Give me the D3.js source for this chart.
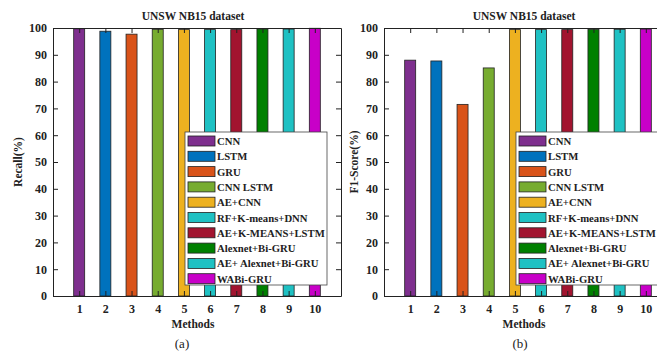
<!DOCTYPE html>
<html>
<head>
<meta charset="utf-8">
<script src="https://cdn.jsdelivr.net/npm/d3@7"></script>
<style>
  html, body { margin: 0; padding: 0; background: #fff; }
  svg, svg text { font-family: "Liberation Serif", "Times New Roman", Times, serif; font-weight: bold; fill: #222; }
</style>
</head>
<body>
<div id="chart"></div>
<script>
// data
const methods = [1, 2, 3, 4, 5, 6, 7, 8, 9, 10];
const names = ["CNN", "LSTM", "GRU", "CNN LSTM", "AE+CNN", "RF+K-means+DNN",
               "AE+K-MEANS+LSTM", "Alexnet+Bi-GRU", "AE+ Alexnet+Bi-GRU", "WABi-GRU"];
const recall = [99.7, 98.8, 97.7, 99.5, 99.4, 99.4, 99.4, 99.6, 99.6, 99.9];
const f1score = [88.0, 87.7, 71.5, 85.1, 99.4, 99.4, 99.4, 99.5, 99.5, 99.6];
const yTicks = [0, 10, 20, 30, 40, 50, 60, 70, 80, 90, 100];
const colors = ["#7E2F8E", "#0072BD", "#D95319", "#77AC30", "#EDB120", "#1FC1C3",
                "#A2142F", "#008000", "#1FC1C3", "#C800C8"];

const FONT = "'Liberation Serif', 'Times New Roman', Times, serif";
const W = 657, H = 354;
const svg = d3.select("#chart").append("svg")
    .attr("width", W).attr("height", H)
    .attr("font-family", FONT).attr("font-weight", "bold");

function panel(left, values, ylabel, ylabelX, tag, tagX) {
  const top = 28, bottom = 296;
  const x = d3.scaleLinear().domain([0, 11]).range([left, left + 288]);
  const y = d3.scaleLinear().domain([0, 100]).range([bottom, top]);
  const g = svg.append("g");

  // bars
  g.selectAll("rect.bar").data(values).enter().append("rect")
      .attr("class", "bar")
      .attr("x", (d, i) => x(methods[i]) - 5.5)
      .attr("width", 11)
      .attr("y", d => y(d))
      .attr("height", d => y(0) - y(d))
      .attr("fill", (d, i) => colors[i])
      .attr("stroke", "#222")
      .attr("stroke-width", 0.8);

  // axes, ticks pointing inward like matlab
  const yAx = d3.axisLeft(y).tickValues(yTicks).tickSizeInner(-5).tickSizeOuter(0).tickPadding(6);
  const xAx = d3.axisBottom(x).tickValues(methods).tickSizeInner(-5).tickSizeOuter(0).tickPadding(8);
  const ga = g.append("g").attr("transform", `translate(${left},0)`).call(yAx);
  const gb = g.append("g").attr("transform", `translate(0,${bottom})`).call(xAx);
  g.append("g").attr("transform", `translate(${left + 288},0)`)
      .call(d3.axisRight(y).tickValues(yTicks).tickSizeInner(-5).tickSizeOuter(0).tickFormat(""));
  g.append("g").attr("transform", `translate(0,${top})`)
      .call(d3.axisTop(x).tickValues(methods).tickSizeInner(-5).tickSizeOuter(0).tickFormat(""));
  g.selectAll(".domain, .tick line").attr("stroke", "#222").attr("stroke-width", 1);
  [ga, gb].forEach(a => a.attr("font-family", FONT).attr("font-size", 12)
      .selectAll("text").attr("fill", "#222"));

  // title and labels
  g.append("text").attr("x", left + 140).attr("y", 20).attr("text-anchor", "middle")
      .style("font-size", "11.5px").text("UNSW NB15 dataset");
  g.append("text").attr("x", left + 140).attr("y", 328).attr("text-anchor", "middle")
      .style("font-size", "11.5px").text("Methods");
  g.append("text").attr("transform", `translate(${ylabelX},162) rotate(-90)`)
      .attr("text-anchor", "middle").style("font-size", "11.5px").text(ylabel);
  g.append("text").attr("x", tagX).attr("y", 348).attr("text-anchor", "middle")
      .style("font-size", "13px").style("font-weight", "normal").text(tag);

  // legend
  const lx = left + 132, ly = 132;
  const lg = g.append("g").attr("transform", `translate(${lx},${ly})`);
  lg.append("rect").attr("width", 142).attr("height", 153)
      .attr("fill", "#fff").attr("stroke", "#444").attr("stroke-width", 0.8);
  const rows = lg.selectAll("g.row").data(names).enter().append("g")
      .attr("class", "row")
      .attr("transform", (d, i) => `translate(3,${9 + i * 15.3})`);
  rows.append("rect").attr("x", 0).attr("y", -5).attr("width", 27).attr("height", 10)
      .attr("fill", (d, i) => colors[i]).attr("stroke", "#222").attr("stroke-width", 0.8);
  rows.append("text").attr("x", 29).attr("y", 4).style("font-size", "10.7px").text(d => d);
}

panel(53, recall, "Recall(%)", 22, "(a)", 182);
panel(384, f1score, "F1-Score(%)", 358, "(b)", 520);
</script>
</body>
</html>
